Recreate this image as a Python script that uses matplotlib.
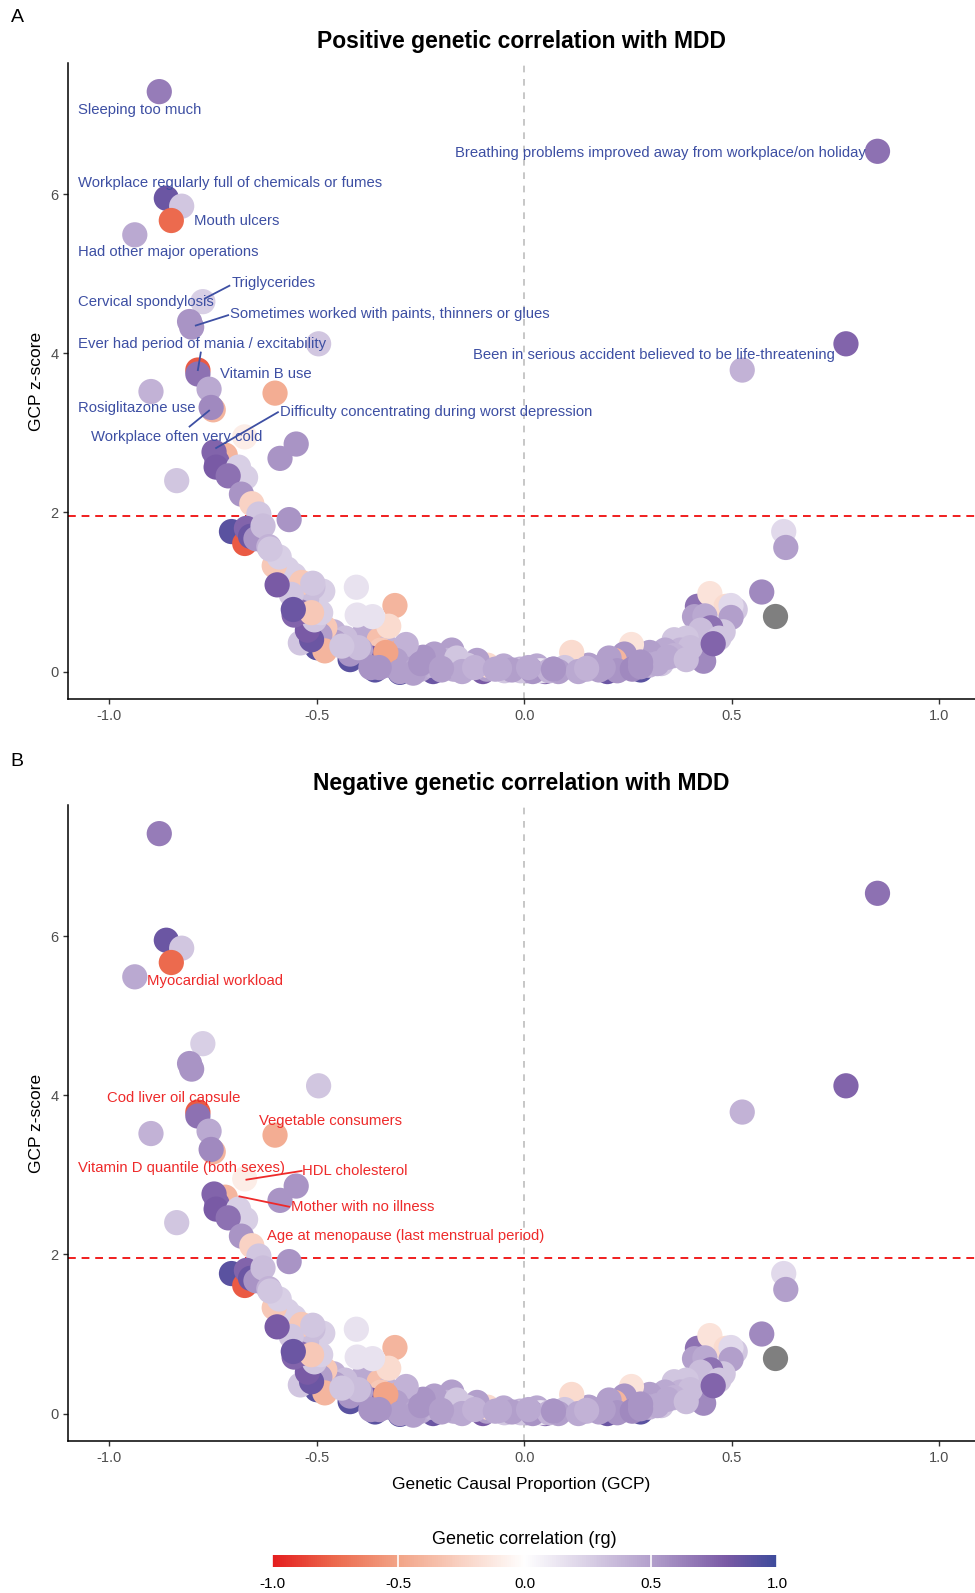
import numpy as np
import matplotlib
matplotlib.use("Agg")
import matplotlib.pyplot as plt
from matplotlib.colors import LinearSegmentedColormap, Normalize

plt.rcParams['font.family'] = ['Liberation Sans', 'DejaVu Sans']

# ---------------- data ----------------
# background traits (drawn first, mostly hidden in the dense band)
gcp_bg = [-0.360, -0.300, -0.220, -0.100, 0.050, 0.200, 0.280, -0.420, -0.500,
          -0.250, -0.210, -0.170, -0.130, -0.090, -0.050, -0.010, 0.030, 0.070,
          0.110, 0.150, 0.190, 0.230, 0.270, 0.310, -0.460, -0.430, -0.390,
          -0.350, -0.330, -0.300, -0.280, 0.350, 0.380, 0.410, 0.440]
z_bg = [0.02, -0.01, 0.00, 0.00, 0.00, 0.00, 0.02, 0.15, 0.30,
        0.03, 0.07, 0.03, 0.07, 0.03, 0.07, 0.03, 0.07, 0.03,
        0.07, 0.03, 0.07, 0.03, 0.07, 0.12, 0.50, 0.35, 0.45,
        0.40, 0.30, 0.25, 0.20, 0.20, 0.30, 0.40, 0.55]
rg_bg = [0.90, 0.90, 0.85, 0.80, 0.80, 0.85, 0.90, 0.90, 0.90,
         0.45, 0.50, 0.45, 0.40, 0.50, 0.45, 0.40, 0.45, 0.50,
         0.45, 0.40, 0.50, 0.45, 0.50, 0.45, 0.40, 0.35, 0.45,
         -0.35, 0.40, -0.45, 0.50, 0.40, 0.30, 0.35, 0.30]

gcp = [-0.880, 0.851, -0.863, -0.826, -0.851, -0.939, -0.775, -0.807, -0.802, -0.496,
       0.775, 0.525, -0.787, -0.787, -0.900, -0.760, -0.601, -0.750, -0.755, -0.674,
       -0.550, -0.589, -0.721, -0.748, -0.741, -0.743, -0.689, -0.672, -0.838, -0.714,
       -0.682, -0.657, -0.640, -0.567, -0.706, -0.674, -0.670, -0.660, -0.647, -0.630,
       -0.616, 0.625, 0.630, 0.572, 0.603, 0.417, 0.447, 0.486, 0.508, 0.498,
       0.410, 0.435, 0.498, 0.479, 0.449, 0.425, 0.390, 0.361, 0.432, 0.469,
       0.376, 0.339, 0.302, 0.258, 0.241, 0.217, 0.204, 0.224, 0.155, 0.114,
       0.097, 0.082, 0.048, 0.038, 0.004, -0.009, -0.048, -0.089, -0.114, -0.138,
       -0.175, -0.187, -0.226, -0.217, -0.163, -0.244, -0.285, -0.310, -0.346, -0.334,
       -0.371, -0.395, -0.420, -0.432, -0.457, -0.403, -0.405, -0.312, -0.327, -0.366,
       -0.334, -0.481, -0.493, -0.481, -0.540, -0.513, -0.523, -0.506, -0.491, -0.486,
       -0.510, -0.525, -0.540, -0.555, -0.579, -0.555, -0.572, -0.537, -0.513, -0.562,
       -0.603, -0.591, -0.613, -0.370, -0.300, -0.260, -0.200, -0.150, -0.120, -0.070,
       -0.030, 0.020, 0.060, 0.130, 0.180, 0.260, 0.300, 0.330, -0.350, -0.268,
       -0.596, -0.557, -0.510, 0.400, 0.455, 0.360, 0.320, 0.280, 0.190, -0.060,
       -0.250, -0.400, -0.440, 0.010, 0.070, 0.150, 0.280, 0.345, 0.390, -0.200]

zscore = [7.29, 6.54, 5.95, 5.85, 5.67, 5.49, 4.65, 4.40, 4.33, 4.12,
          4.12, 3.79, 3.79, 3.74, 3.52, 3.55, 3.50, 3.29, 3.32, 2.95,
          2.86, 2.68, 2.72, 2.76, 2.64, 2.57, 2.57, 2.44, 2.40, 2.46,
          2.23, 2.11, 1.98, 1.91, 1.76, 1.61, 1.80, 1.70, 1.67, 1.83,
          1.57, 1.76, 1.56, 1.00, 0.70, 0.82, 0.98, 0.82, 0.78, 0.83,
          0.69, 0.70, 0.68, 0.50, 0.55, 0.52, 0.42, 0.40, 0.13, 0.42,
          0.27, 0.27, 0.24, 0.34, 0.22, 0.14, 0.17, 0.01, 0.08, 0.24,
          0.05, 0.00, 0.01, 0.01, 0.01, 0.01, 0.01, 0.08, 0.14, 0.08,
          0.27, 0.14, 0.08, 0.22, 0.17, 0.18, 0.34, 0.14, 0.27, 0.08,
          0.17, 0.27, 0.22, 0.42, 0.37, 0.71, 1.06, 0.83, 0.57, 0.69,
          0.24, 0.55, 0.46, 0.26, 0.36, 0.40, 0.52, 0.65, 0.74, 1.01,
          1.06, 0.91, 0.75, 0.71, 1.09, 1.21, 1.29, 1.12, 0.74, 0.97,
          1.33, 1.44, 1.54, 0.05, 0.00, 0.03, 0.02, 0.00, 0.05, 0.03,
          0.02, 0.00, 0.01, 0.00, 0.02, 0.03, 0.08, 0.10, 0.05, -0.02,
          1.09, 0.78, 1.11, 0.30, 0.35, 0.20, 0.10, 0.06, 0.05, 0.04,
          0.10, 0.30, 0.32, 0.05, 0.03, 0.04, 0.12, 0.18, 0.15, 0.04]

rg = [0.65, 0.70, 0.85, 0.30, -0.75, 0.45, 0.25, 0.55, 0.55, 0.30,
      0.75, 0.40, -0.80, 0.70, 0.40, 0.45, -0.45, -0.40, 0.60, -0.10,
      0.55, 0.55, -0.40, 0.75, 0.75, 0.80, 0.25, 0.25, 0.30, 0.70,
      0.55, -0.25, 0.30, 0.55, 0.90, -0.80, 0.75, 0.85, 0.55, 0.35,
      0.40, 0.20, 0.50, 0.60, np.nan, 0.70, -0.15, -0.20, 0.30, 0.20,
      0.50, 0.45, 0.50, 0.30, 0.70, 0.35, 0.30, 0.30, 0.60, 0.30,
      0.40, 0.45, 0.50, -0.15, 0.55, -0.40, 0.50, 0.55, 0.50, -0.20,
      0.30, 0.50, 0.30, 0.15, 0.50, 0.30, 0.30, -0.20, 0.50, 0.30,
      0.50, 0.40, 0.40, 0.50, 0.30, 0.55, 0.40, 0.50, -0.30, 0.55,
      0.80, 0.50, 0.55, 0.35, 0.50, 0.15, 0.15, -0.40, -0.20, 0.15,
      -0.50, -0.30, 0.50, -0.40, 0.30, 0.85, 0.80, 0.30, 0.25, 0.25,
      0.35, 0.35, 0.70, 0.75, 0.75, 0.25, 0.25, -0.30, -0.30, 0.30,
      -0.30, 0.25, 0.30, 0.55, 0.50, 0.45, 0.50, 0.45, 0.40, 0.45,
      0.50, 0.55, 0.40, 0.45, 0.50, 0.60, 0.40, 0.30, 0.55, 0.50,
      0.80, 0.85, 0.30, 0.35, 0.75, 0.40, 0.45, 0.55, 0.50, 0.45,
      0.55, 0.35, 0.30, 0.45, 0.55, 0.40, 0.55, 0.45, 0.35, 0.50]

x_ticks = [-1.0, -0.5, 0.0, 0.5, 1.0]
y_ticks = [0, 2, 4, 6]
threshold = 1.96

labels_pos = ["Sleeping too much",
              "Breathing problems improved away from workplace/on holiday",
              "Workplace regularly full of chemicals or fumes",
              "Mouth ulcers", "Had other major operations", "Triglycerides",
              "Cervical spondylosis",
              "Sometimes worked with paints, thinners or glues",
              "Ever had period of mania / excitability", "Vitamin B use",
              "Been in serious accident believed to be life-threatening",
              "Rosiglitazone use",
              "Difficulty concentrating during worst depression",
              "Workplace often very cold"]
lab_pos_x = [-1.076, -0.168, -1.076, -0.797, -1.076, -0.706, -1.076, -0.709,
             -1.076, -0.733, -0.124, -1.076, -0.589, -1.044]
lab_pos_y = [7.06, 6.52, 6.14, 5.66, 5.27, 4.88, 4.65, 4.49, 4.12, 3.74,
             3.98, 3.31, 3.26, 2.95]
# leader segments (x0, y0, x1, y1)
seg_pos = [(-0.770, 4.69, -0.711, 4.85), (-0.792, 4.35, -0.714, 4.48),
           (-0.780, 4.01, -0.787, 3.79), (-0.743, 2.81, -0.594, 3.26),
           (-0.807, 3.08, -0.760, 3.28)]

labels_neg = ["Myocardial workload", "Cod liver oil capsule", "Vegetable consumers",
              "Vitamin D quantile (both sexes)", "HDL cholesterol",
              "Mother with no illness", "Age at menopause (last menstrual period)"]
lab_neg_x = [-0.909, -1.005, -0.640, -1.076, -0.535, -0.562, -0.621]
lab_neg_y = [5.44, 3.97, 3.68, 3.09, 3.05, 2.60, 2.23]
seg_neg = [(-0.670, 2.94, -0.537, 3.05), (-0.687, 2.73, -0.567, 2.60)]

# ---------------- style ----------------
cmap = LinearSegmentedColormap.from_list(
    "rg", [(0.0, "#E41E1E"), (0.125, "#EC6A4E"), (0.25, "#F2A487"),
           (0.5, "#FFFFFF"), (0.75, "#B3A0CC"), (0.9, "#7A5AA5"),
           (1.0, "#3E4B9C")])
norm = Normalize(-1, 1)

W, H = 975, 1593
fig = plt.figure(figsize=(W / 100, H / 100), dpi=100)

xb = np.array(gcp_bg)
yb = np.array(z_bg)
cb_ = np.array(rg_bg)
x = np.array(gcp)
y = np.array(zscore)
c = np.array(rg, dtype=float)
na = np.isnan(c)

def panel(ax, title, labels, lx, ly, segs, tcolor, xlabel):
    ax.axvline(0, color="#BEBEBE", lw=1.2, ls=(0, (4, 4)), zorder=1)
    ax.axhline(threshold, color="#F01E1E", lw=1.4, ls=(0, (4, 3)), zorder=1)
    ax.scatter(xb, yb, c=cb_, cmap=cmap, norm=norm, s=330, linewidths=0,
               zorder=2)
    ax.scatter(x[~na], y[~na], c=c[~na], cmap=cmap, norm=norm, s=330,
               linewidths=0, zorder=2)
    ax.scatter(x[na], y[na], color="#7F7F7F", s=330, linewidths=0, zorder=2)
    for t, tx, ty in zip(labels, lx, ly):
        ax.text(tx, ty, t, color=tcolor, fontsize=10.7, ha="left", va="center",
                zorder=4)
    for (x0, y0, x1, y1) in segs:
        ax.plot([x0, x1], [y0, y1], color=tcolor, lw=1.3, zorder=3)
    ax.set_xlim(-1.100, 1.086)
    ax.set_ylim(-0.345, 7.65)
    ax.set_xticks(x_ticks)
    ax.set_xticklabels([f"{v:.1f}" for v in x_ticks])
    ax.set_yticks(y_ticks)
    ax.tick_params(colors="#333333", labelcolor="#4D4D4D", labelsize=10.5,
                   length=3.5, width=1)
    for s in ["top", "right"]:
        ax.spines[s].set_visible(False)
    for s in ["left", "bottom"]:
        ax.spines[s].set_linewidth(1.1)
        ax.spines[s].set_color("black")
    ax.set_title(title, fontsize=16.5, fontweight="bold", pad=11)
    ax.set_ylabel("GCP z-score", fontsize=12.5, labelpad=4)
    if xlabel:
        ax.set_xlabel(xlabel, fontsize=12.5, labelpad=9)

axA = fig.add_axes([68 / W, 1 - 699 / H, (W - 68) / W, 636 / H])
panel(axA, "Positive genetic correlation with MDD", labels_pos, lab_pos_x,
      lab_pos_y, seg_pos, "#3D4FA3", None)
axB = fig.add_axes([68 / W, 1 - 1441 / H, (W - 68) / W, 636 / H])
panel(axB, "Negative genetic correlation with MDD", labels_neg, lab_neg_x,
      lab_neg_y, seg_neg, "#EE2A2A", "Genetic Causal Proportion (GCP)")

fig.text(17 / W, 1 - 18 / H, "A", fontsize=14, ha="center", va="center")
fig.text(17 / W, 1 - 761 / H, "B", fontsize=14, ha="center", va="center")

# colorbar
cax = fig.add_axes([272 / W, 1 - 1567 / H, 505 / W, 12 / H])
sm = plt.cm.ScalarMappable(cmap=cmap, norm=norm)
cbar = fig.colorbar(sm, cax=cax, orientation="horizontal")
cbar.outline.set_visible(False)
cbar.set_ticks(x_ticks)
cbar.set_ticklabels([f"{v:.1f}" for v in x_ticks])
cax.tick_params(length=0, labelsize=11, pad=7, labelcolor="black")
for v in x_ticks:
    cax.axvline(v, color="white", lw=1.2)
fig.text(524 / W, 1 - 1539 / H, "Genetic correlation (rg)", fontsize=13,
         ha="center", va="center")

fig.savefig("out.png", dpi=100)
